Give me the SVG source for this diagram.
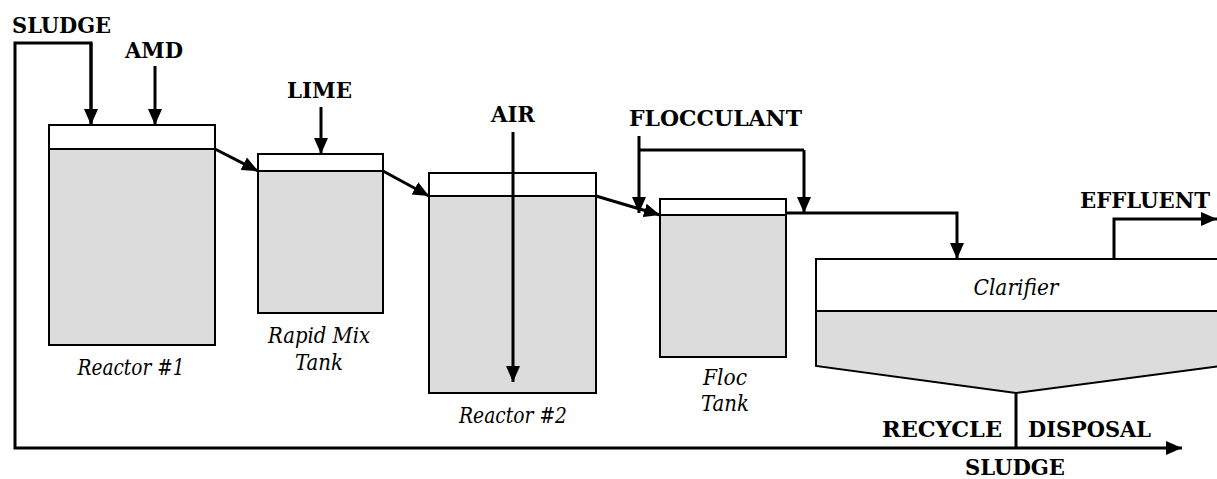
<svg xmlns="http://www.w3.org/2000/svg" width="1217" height="479" viewBox="0 0 1217 479">
<defs>
<style>
.tank{fill:#dcdcdc;stroke:#000;stroke-width:2}
.top{fill:#fff;stroke:#000;stroke-width:2}
.line{fill:none;stroke:#000;stroke-width:3}
.arrow{fill:none;stroke:#000;stroke-width:3;marker-end:url(#ah)}
text{font-family:'DejaVu Serif','Liberation Serif',serif;font-size:22px;fill:#000}
.lbl{font-weight:bold}
.name{font-style:italic;text-anchor:middle}
</style>
<marker id="ah" markerUnits="userSpaceOnUse" markerWidth="16" markerHeight="16" refX="16" refY="8" orient="auto">
<path d="M0,1 L16,8 L0,15 z" fill="#000"/>
</marker>
</defs>
<rect width="1217" height="479" fill="#fff"/>

<g id="reactor1">
<rect class="top" x="49" y="125" width="166" height="24"/>
<rect class="tank" x="49" y="149" width="166" height="196"/>
<text class="name" x="131" y="375" textLength="107" lengthAdjust="spacingAndGlyphs">Reactor #1</text>
</g>

<g id="rapidmix">
<rect class="top" x="258" y="154" width="125" height="17"/>
<rect class="tank" x="258" y="171" width="125" height="142"/>
<text class="name" x="319" y="343" textLength="102" lengthAdjust="spacingAndGlyphs">Rapid Mix</text>
<text class="name" x="319" y="370" textLength="48" lengthAdjust="spacingAndGlyphs">Tank</text>
</g>

<g id="reactor2">
<rect class="top" x="429" y="173" width="167" height="23"/>
<rect class="tank" x="429" y="196" width="167" height="197"/>
<text class="name" x="513" y="423" textLength="108" lengthAdjust="spacingAndGlyphs">Reactor #2</text>
</g>

<g id="floctank">
<rect class="top" x="660" y="199" width="126" height="16"/>
<rect class="tank" x="660" y="215" width="126" height="142"/>
<text class="name" x="725" y="385" textLength="44" lengthAdjust="spacingAndGlyphs">Floc</text>
<text class="name" x="725" y="411" textLength="48" lengthAdjust="spacingAndGlyphs">Tank</text>
</g>

<g id="clarifier">
<rect class="top" x="816" y="259" width="404" height="52"/>
<polygon class="tank" points="816,311 1220,311 1220,366 1016,393 816,366"/>
<text class="name" x="1016" y="295" textLength="85" lengthAdjust="spacingAndGlyphs">Clarifier</text>
</g>

<g id="labels">
<text class="lbl" x="12" y="33" textLength="99" lengthAdjust="spacingAndGlyphs">SLUDGE</text>
<text class="lbl" x="125" y="58" textLength="58" lengthAdjust="spacingAndGlyphs">AMD</text>
<text class="lbl" x="287" y="98" textLength="65" lengthAdjust="spacingAndGlyphs">LIME</text>
<text class="lbl" x="491" y="122" textLength="44" lengthAdjust="spacingAndGlyphs">AIR</text>
<text class="lbl" x="629" y="126" textLength="173" lengthAdjust="spacingAndGlyphs">FLOCCULANT</text>
<text class="lbl" x="1080" y="208" textLength="130" lengthAdjust="spacingAndGlyphs">EFFLUENT</text>
<text class="lbl" x="882" y="437" textLength="120" lengthAdjust="spacingAndGlyphs">RECYCLE</text>
<text class="lbl" x="1028" y="437" textLength="123" lengthAdjust="spacingAndGlyphs">DISPOSAL</text>
<text class="lbl" x="965" y="475" textLength="100" lengthAdjust="spacingAndGlyphs">SLUDGE</text>
</g>

<g id="connectors">
<path class="arrow" d="M91,125 V43 H15 V448 H1182"/>
<path class="arrow" d="M91,43 V125"/>
<path class="arrow" d="M155,66 V125"/>
<path class="arrow" d="M321,107 V154"/>
<path class="arrow" d="M513,132 V382"/>
<path class="arrow" d="M215,149 L258,171"/>
<path class="arrow" d="M383,171 L429,196"/>
<path class="arrow" d="M596,196 L660,215"/>
<path class="arrow" d="M639,136 V213"/>
<path class="line" d="M639,150 H804"/>
<path class="arrow" d="M804,150 V213"/>
<path class="arrow" d="M786,213 H957 V259"/>
<path class="arrow" d="M1114,259 V219 H1217"/>
<path class="line" d="M1016,393 V448"/>
</g>
</svg>
